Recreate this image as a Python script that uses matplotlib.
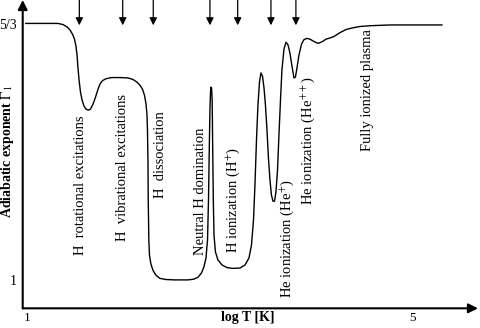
import matplotlib
matplotlib.use("Agg")
import matplotlib.pyplot as plt

plt.rcParams['font.family'] = ['Liberation Serif', 'DejaVu Serif']
plt.rcParams['mathtext.fontset'] = 'stix'

# log T [K]
log_t = [0.99, 1.242, 1.325, 1.377, 1.418, 1.449, 1.475, 1.496, 1.511, 1.522,
         1.532, 1.543, 1.558, 1.574, 1.594, 1.615, 1.639, 1.662, 1.688, 1.714,
         1.740, 1.760, 1.786, 1.823, 1.882, 1.968, 2.051, 2.103, 2.144, 2.175,
         2.201, 2.222, 2.238, 2.248, 2.253, 2.258, 2.261, 2.267, 2.274, 2.289,
         2.310, 2.341, 2.382, 2.445, 2.538, 2.673, 2.735, 2.777, 2.813, 2.839,
         2.860, 2.876, 2.886, 2.894, 2.901, 2.907, 2.912, 2.918, 2.924, 2.930,
         2.936, 2.943, 2.958, 2.984, 3.026, 3.078, 3.140, 3.213, 3.265, 3.306,
         3.332, 3.353, 3.368, 3.384, 3.399, 3.415, 3.430, 3.446, 3.462, 3.477,
         3.493, 3.508, 3.524, 3.539, 3.555, 3.571, 3.586, 3.602, 3.617, 3.633,
         3.648, 3.669, 3.690, 3.711, 3.731, 3.752, 3.773, 3.788, 3.804, 3.825,
         3.851, 3.877, 3.908, 3.939, 3.980, 4.022, 4.063, 4.105, 4.146, 4.188,
         4.250, 4.312, 4.374, 4.457, 4.561, 4.769, 5.308]
# adiabatic exponent Gamma_1
gamma1 = [1.667, 1.667, 1.667, 1.664, 1.658, 1.650, 1.639, 1.626, 1.608, 1.585,
          1.551, 1.520, 1.488, 1.468, 1.452, 1.444, 1.441, 1.444, 1.457, 1.475,
          1.496, 1.509, 1.518, 1.523, 1.526, 1.526, 1.525, 1.521, 1.514, 1.506,
          1.496, 1.480, 1.457, 1.428, 1.389, 1.311, 1.207, 1.103, 1.063, 1.040,
          1.024, 1.011, 1.003, 1.000, 0.999, 0.999, 1.001, 1.006, 1.017, 1.033,
          1.056, 1.103, 1.207, 1.337, 1.441, 1.488, 1.501, 1.499, 1.467, 1.337,
          1.207, 1.116, 1.072, 1.051, 1.038, 1.031, 1.029, 1.030, 1.038, 1.056,
          1.090, 1.155, 1.246, 1.363, 1.454, 1.514, 1.538, 1.530, 1.499, 1.454,
          1.389, 1.316, 1.259, 1.220, 1.204, 1.204, 1.228, 1.285, 1.376, 1.467,
          1.546, 1.600, 1.618, 1.611, 1.590, 1.556, 1.525, 1.527, 1.551, 1.585,
          1.613, 1.625, 1.628, 1.626, 1.620, 1.615, 1.619, 1.626, 1.629, 1.633,
          1.643, 1.651, 1.655, 1.659, 1.661, 1.663, 1.663]

xticks = [1, 5]
xtick_labels = ["1", "5"]
yticks = [1.0, 5.0 / 3.0]
ytick_labels = ["1", "5/3"]

arrow_x = [1.546, 1.996, 2.313, 2.901, 3.189, 3.534, 3.793]

labels = ["H  rotational excitations", "H  vibrational excitations",
          "H  dissociation", "Neutral H domination",
          "H ionization (H$^{+}$)", "He ionization (He$^{+}$)",
          "He ionization (He$^{++}$)", "Fully ionized plasma"]
label_x = [1.553, 1.998, 2.383, 2.798, 3.140, 3.700, 3.918, 4.540]
label_y = [1.246, 1.293, 1.324, 1.231, 1.207, 1.108, 1.363, 1.494]

fig = plt.figure(figsize=(4.8, 3.28), dpi=100)
ax = fig.add_axes([0.0473, 0.06, 0.9485, 0.94])
ax.set_xlim(0.9585, 5.682)
ax.set_ylim(0.925, 1.728)
for s in ax.spines.values():
    s.set_visible(False)

ax.plot(log_t, gamma1, color='black', lw=1.0)

# axes with arrowheads
ax.annotate('', xy=(0, 1), xytext=(0, 0), xycoords='axes fraction',
            arrowprops=dict(arrowstyle='-|>', color='black', lw=1.5,
                            mutation_scale=14, shrinkA=0, shrinkB=0))
ax.annotate('', xy=(1, 0), xytext=(0, 0), xycoords='axes fraction',
            arrowprops=dict(arrowstyle='-|>', color='black', lw=1.5,
                            mutation_scale=14, shrinkA=0, shrinkB=0))

ax.set_xticks(xticks)
ax.set_xticklabels(xtick_labels, fontsize=9.5)
ax.set_yticks(yticks)
ax.set_yticklabels(ytick_labels, fontsize=10)
ax.tick_params(axis='x', length=0, pad=3)
ax.tick_params(axis='y', length=0, pad=4)

# top arrows
trans = ax.get_xaxis_transform()
for xa in arrow_x:
    ax.annotate('', xy=(xa, 0.918), xytext=(xa, 1.0), xycoords=trans,
                arrowprops=dict(arrowstyle='-|>', color='black', lw=0.9,
                                mutation_scale=11, shrinkA=0, shrinkB=0))

for t, x, y in zip(labels, label_x, label_y):
    ax.text(x, y, t, rotation=90, ha='center', va='center', fontsize=10.5)

fig.text(248 / 480, 1 - 318 / 328, "log T [K]", ha='center', va='center',
         fontsize=10, fontweight='bold')
fig.text(8 / 480, 1 - 152 / 328, r"Adiabatic exponent $\Gamma_1$", rotation=90,
         ha='center', va='center', fontsize=10, fontweight='bold')

fig.savefig("out.png", dpi=100)
